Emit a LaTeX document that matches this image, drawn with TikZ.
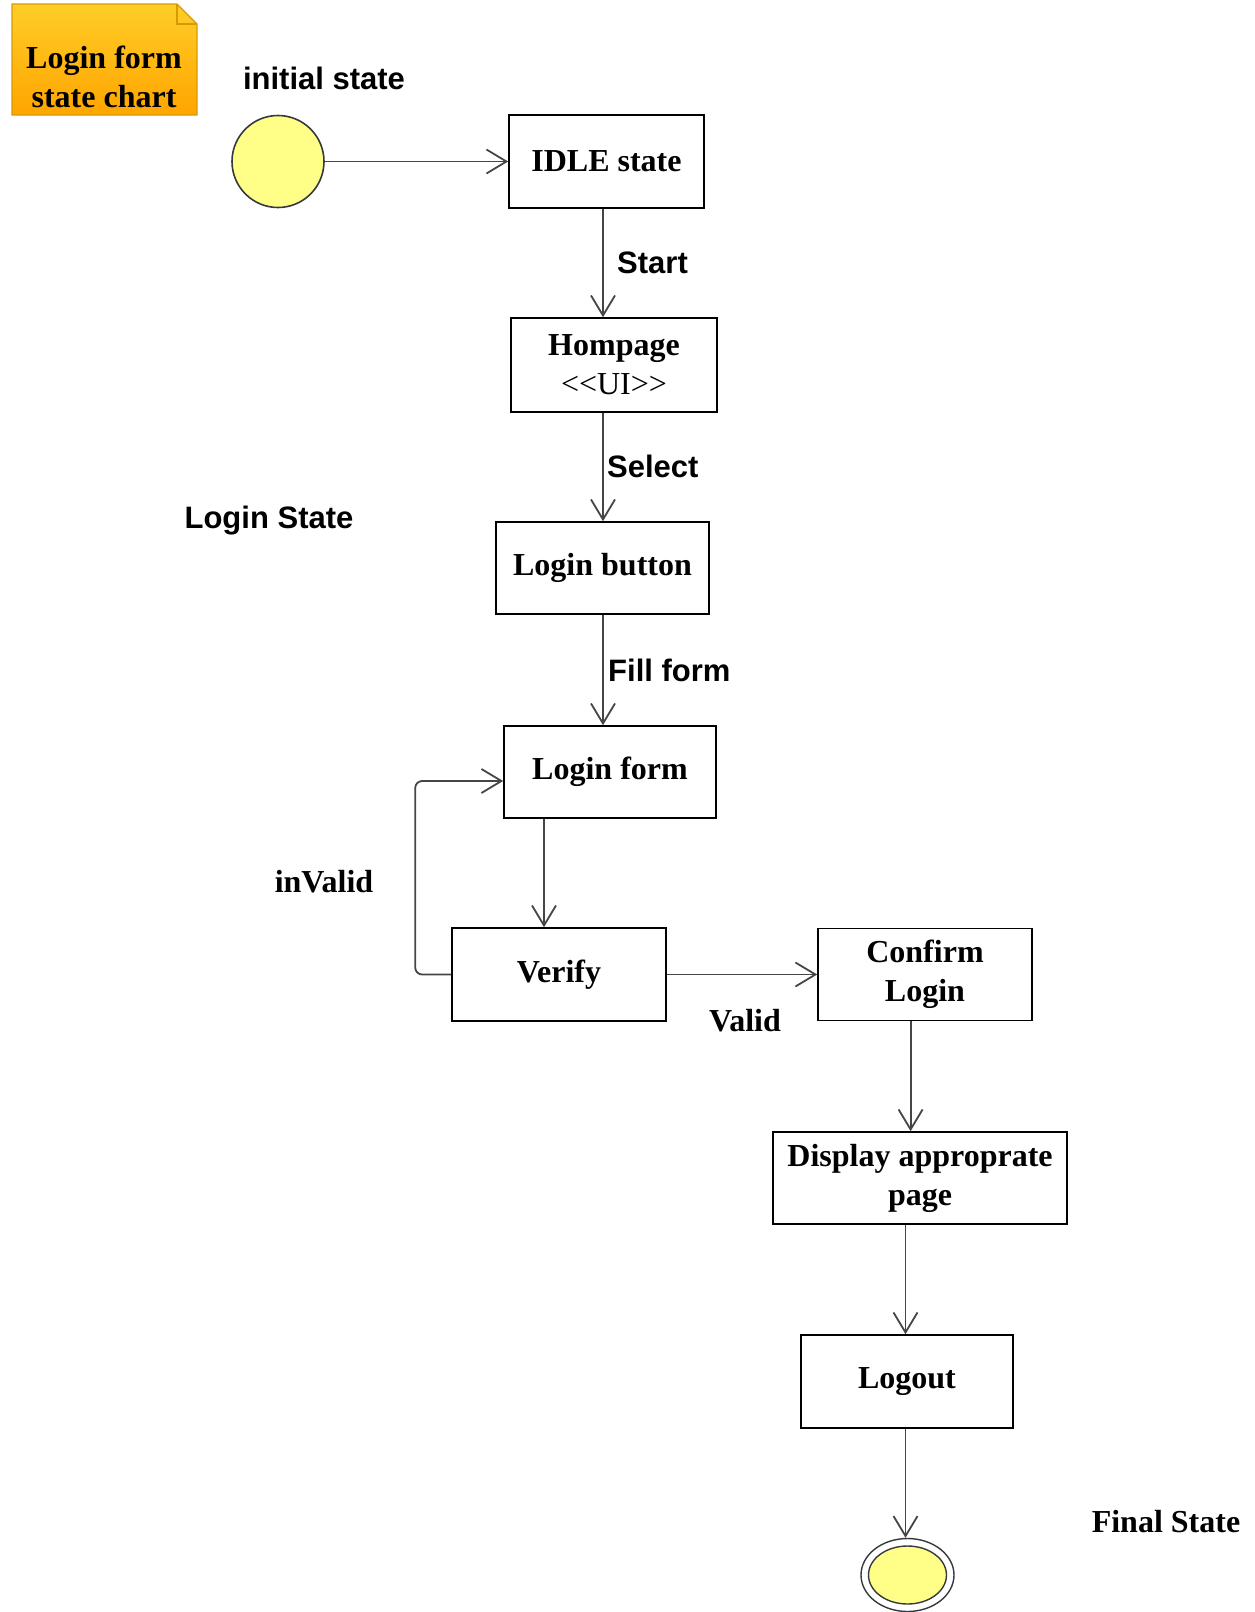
\documentclass[tikz,border=0pt]{standalone}
\usepackage{fontspec}
\setmainfont{Liberation Serif}
\setsansfont{Liberation Sans}
\usetikzlibrary{arrows.meta,shapes.geometric}

\definecolor{noteTop}{HTML}{FFCD28}
\definecolor{noteBottom}{HTML}{FFA500}
\definecolor{noteLine}{HTML}{D79B00}
\definecolor{pseudoFill}{HTML}{FFFF88}
\definecolor{pseudoLine}{HTML}{36393D}
\definecolor{wire}{HTML}{454545}

\newcommand\boxfont{\fontsize{32}{39}\selectfont\bfseries}
\newcommand\eventfont{\fontsize{31}{38}\selectfont\sffamily\bfseries}

\tikzset{
  statebox/.style={draw=black, line width=1.6pt, fill=white, align=center,
                   inner sep=0pt, font=\boxfont},
  flow/.style={draw=wire, line width=1.8pt,
               -{Straight Barb[length=20pt,width=24pt,line width=1.8pt]}},
  event/.style={font=\eventfont, inner sep=0pt},
  serifnote/.style={font=\boxfont, inner sep=0pt, align=center},
  pseudo/.style={draw=pseudoLine, line width=1.6pt, fill=pseudoFill, inner sep=0pt}
}

\begin{document}
\begin{tikzpicture}[x=1pt,y=-1pt]
\useasboundingbox (0,0) rectangle (1255,1612);

% title note with folded corner
\shade[top color=noteTop, bottom color=noteBottom]
  (12,4) -- (177,4) -- (197,24) -- (197,115) -- (12,115) -- cycle;
\draw[noteLine, line width=1.2pt]
  (12,4) -- (177,4) -- (197,24) -- (197,115) -- (12,115) -- cycle;
\draw[noteLine, line width=1.2pt] (177,4) -- (177,24) -- (197,24);
\node[serifnote] (title) at (104,77) {Login form\\state chart};

% pseudo states
\node[pseudo, circle, minimum size=92pt] (init) at (278,161.5) {};
\node[event] (initlbl) at (324,78) {initial state};

\node[ellipse, draw=pseudoLine, line width=1.4pt, fill=white,
      minimum width=93pt, minimum height=73pt, inner sep=0pt] (final) at (907.5,1575) {};
\node[pseudo, ellipse, line width=1.4pt, minimum width=78pt, minimum height=58pt]
  (finalcore) at (final.center) {};
\node[serifnote] (finallbl) at (1166,1522) {Final State};

% states
\node[statebox, minimum width=195pt, minimum height=93pt] (idle)    at (606.5,161.5) {IDLE state};
\node[statebox, minimum width=206pt, minimum height=94pt] (home)    at (614,365)     {Hompage\\{\mdseries <{}<UI>{}>}};
\node[statebox, minimum width=213pt, minimum height=92pt] (button)  at (602.5,568)   {Login button};
\node[statebox, minimum width=212pt, minimum height=92pt] (form)    at (610,772)     {Login form};
\node[statebox, minimum width=214pt, minimum height=93pt] (verify)  at (559,974.5)   {Verify};
\node[statebox, minimum width=214pt, minimum height=92pt] (confirm) at (925,974.5)   {Confirm\\Login};
\node[statebox, minimum width=294pt, minimum height=92pt] (display) at (920,1178)    {Display approprate\\page};
\node[statebox, minimum width=212pt, minimum height=93pt] (logout)  at (907,1381.5)  {Logout};

% transitions
\draw[flow] (init.east) -- (idle.west);
\draw[flow] ([xshift=-3.5pt]idle.south) -- ([xshift=-11pt]home.north);
\draw[flow] ([xshift=-11pt]home.south) -- ([xshift=0.5pt]button.north);
\draw[flow] ([xshift=0.5pt]button.south) -- ([xshift=-7pt]form.north);
\draw[flow] ([xshift=-66pt]form.south) -- ([xshift=-15pt]verify.north);
\draw[flow] (verify.east) -- (confirm.west);
\draw[flow, rounded corners=7pt] (verify.west) -- ++(-36,0) |- ([yshift=-9pt]form.west);
\draw[flow] ([xshift=-14.4pt]confirm.south) -- ([xshift=-9.4pt]display.north);
\draw[flow] ([xshift=-14.5pt]display.south) -- ([xshift=-1.5pt]logout.north);
\draw[flow] ([xshift=-1.5pt]logout.south) -- ([xshift=-2pt]final.north);

% transition labels
\node[event, anchor=west] (lstart)  at (617,263) {Start};
\node[event, anchor=west] (lselect) at (607,466) {Select};
\node[event, anchor=west] (lfill)   at (608,670) {Fill form};
\node[event] (lstate) at (269,521) {Login State};
\node[serifnote] (linvalid) at (324,882) {inValid};
\node[serifnote] (lvalid)   at (745,1021) {Valid};
\end{tikzpicture}
\end{document}
